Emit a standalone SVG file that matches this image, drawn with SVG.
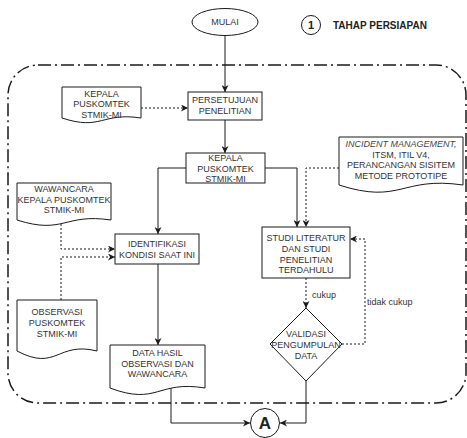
<svg xmlns="http://www.w3.org/2000/svg" width="467" height="438" viewBox="0 0 467 438">
<style>
.s{fill:#fff;stroke:#1a1a1a;stroke-width:1}
.t{font-family:"Liberation Sans",Arial,sans-serif;font-size:9px;fill:#333;text-anchor:middle}
.l{font-family:"Liberation Sans",Arial,sans-serif;font-size:9px;fill:#333;text-anchor:start}
.e{fill:none;stroke:#1a1a1a;stroke-width:1}
.d{fill:none;stroke:#1a1a1a;stroke-width:1;stroke-dasharray:2 2}
.b{font-family:"Liberation Sans",Arial,sans-serif;font-weight:bold;fill:#222}
</style>
<defs>
<marker id="arr" viewBox="0 0 10 10" refX="10" refY="5" markerWidth="7" markerHeight="7" markerUnits="userSpaceOnUse" orient="auto">
<path d="M0,0 L10,5 L0,10 L3,5 z" fill="#1a1a1a" stroke="none"/>
</marker>
</defs>
<rect id="container" x="8" y="65" width="458" height="338" rx="30" ry="30" fill="none" stroke="#1a1a1a" stroke-width="1.5" stroke-dasharray="13 4 2 4"/>
<g id="legend">
<circle cx="311" cy="25" r="9.5" fill="#fff" stroke="#1a1a1a"/>
<text class="b" x="311" y="29" font-size="11" text-anchor="middle">1</text>
<text class="b" x="333" y="28.5" font-size="10">TAHAP PERSIAPAN</text>
</g>
<g id="connectors">
<path class="e" d="M225,35 V92" marker-end="url(#arr)"/>
<path class="d" d="M141,108 H188" marker-end="url(#arr)"/>
<path class="e" d="M225,120 V153" marker-end="url(#arr)"/>
<path class="e" d="M186,168 H158 V234" marker-end="url(#arr)"/>
<path class="e" d="M265,168 H297 V227" marker-end="url(#arr)"/>
<path class="d" d="M339,168 H306 V227" marker-end="url(#arr)"/>
<path class="d" d="M61,224 V249 H115" marker-end="url(#arr)"/>
<path class="d" d="M61,300 V257 H115" marker-end="url(#arr)"/>
<path class="e" d="M158,264 V345" marker-end="url(#arr)"/>
<path class="d" d="M306,278 V308" marker-end="url(#arr)"/>
<path class="d" d="M342,344 H365 V239 H350" marker-end="url(#arr)"/>
<path class="e" d="M171,388 V423 H250" marker-end="url(#arr)"/>
<path class="e" d="M306,381 V423 H280" marker-end="url(#arr)"/>
<text class="l" x="312" y="298">cukup</text>
<text class="l" x="367" y="305">tidak cukup</text>
</g>
<g id="mulai">
<ellipse class="s" cx="225" cy="22" rx="33" ry="13.5"/>
<text class="t" x="225" y="25.3">MULAI</text>
</g>
<g id="doc-kepala">
<path class="s" d="M62,87 H141 V118 C101.5,112 101.5,131 62,118 Z"/>
<text class="t" x="101.5" y="96.5">KEPALA</text>
<text class="t" x="101.5" y="107.3">PUSKOMTEK</text>
<text class="t" x="101.5" y="117.8">STMIK-MI</text>
</g>
<g id="persetujuan">
<rect class="s" x="188" y="92" width="74" height="28"/>
<text class="t" x="225" y="103.3">PERSETUJUAN</text>
<text class="t" x="225" y="114">PENELITIAN</text>
</g>
<g id="kepala-box">
<rect class="s" x="186" y="153" width="79" height="30"/>
<text class="t" x="225.5" y="161">KEPALA</text>
<text class="t" x="225.5" y="171.8">PUSKOMTEK</text>
<text class="t" x="225.5" y="182.3">STMIK-MI</text>
</g>
<g id="doc-incident">
<path class="s" d="M339,137 H463 V185 C401,176 401,205 339,185 Z"/>
<text class="t" x="401" y="147.3" style="font-style:italic;fill:#444">INCIDENT MANAGEMENT,</text>
<text class="t" x="401" y="157.8">ITSM, ITIL V4,</text>
<text class="t" x="401" y="168.3">PERANCANGAN SISITEM</text>
<text class="t" x="401" y="178.5">METODE PROTOTIPE</text>
</g>
<g id="doc-wawancara">
<path class="s" d="M17,183 H111 V220 C64,213 64,235 17,220 Z"/>
<text class="t" x="64" y="192.3">WAWANCARA</text>
<text class="t" x="64" y="202.8">KEPALA PUSKOMTEK</text>
<text class="t" x="64" y="213.3">STMIK-MI</text>
</g>
<g id="identifikasi">
<rect class="s" x="115" y="234" width="84" height="30"/>
<text class="t" x="157" y="247.3">IDENTIFIKASI</text>
<text class="t" x="157" y="258.3">KONDISI SAAT INI</text>
</g>
<g id="studi">
<rect class="s" x="262" y="227" width="88" height="51"/>
<text class="t" x="306" y="241.3">STUDI LITERATUR</text>
<text class="t" x="306" y="252.3">DAN STUDI</text>
<text class="t" x="306" y="262.5">PENELITIAN</text>
<text class="t" x="306" y="272.5">TERDAHULU</text>
</g>
<g id="doc-observasi">
<path class="s" d="M17,300 H97 V351 C57,341 57,372 17,351 Z"/>
<text class="t" x="57" y="315.3">OBSERVASI</text>
<text class="t" x="57" y="326.3">PUSKOMTEK</text>
<text class="t" x="57" y="336.5">STMIK-MI</text>
</g>
<g id="doc-data">
<path class="s" d="M110,345 H205 V388 C157.5,380 157.5,406 110,388 Z"/>
<text class="t" x="157.5" y="356.3">DATA HASIL</text>
<text class="t" x="157.5" y="366.5">OBSERVASI DAN</text>
<text class="t" x="157.5" y="376.5">WAWANCARA</text>
</g>
<g id="validasi">
<path class="s" d="M306,308 L342,344 L306,381 L270,344 Z"/>
<text class="t" x="306" y="337.3">VALIDASI</text>
<text class="t" x="306" y="348.3">PENGUMPULAN</text>
<text class="t" x="306" y="359.3">DATA</text>
</g>
<g id="connector-a">
<circle class="s" cx="265" cy="423" r="14.5"/>
<text class="b" x="265" y="429" font-size="17" text-anchor="middle">A</text>
</g>
</svg>
